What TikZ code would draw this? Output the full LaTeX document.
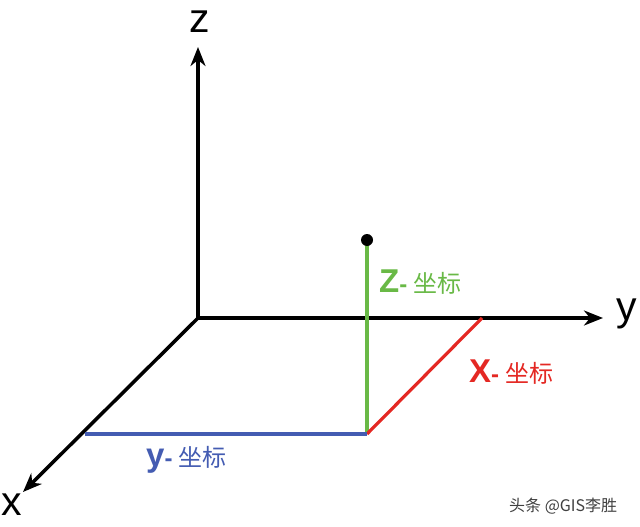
\documentclass[tikz,border=0pt]{standalone}
\usepackage{fontspec}
\setmainfont{Liberation Sans}
\newfontfamily\cjk{Noto Sans CJK SC}
\usepackage{tikz}
\usetikzlibrary{positioning}
\usetikzlibrary{arrows.meta}
\definecolor{zgreen}{RGB}{105,185,70}
\definecolor{xred}{RGB}{228,40,35}
\definecolor{yblue}{RGB}{68,92,178}
\tikzset{axis/.style={line width=3.5pt,-{Stealth[length=19pt,width=15pt,inset=6pt]}}}
\tikzset{coordline/.style={line width=3.2pt}}
\tikzset{axlabel/.style={inner sep=0pt,font=\fontsize{41}{41}\selectfont}}
\tikzset{coordlabel/.style={inner sep=0pt,anchor=base west}}
\newcommand{\zuobiao}[1]{{\bfseries\fontsize{33}{33}\selectfont #1\fontsize{24}{24}\selectfont -}\hspace{6pt}{\cjk\fontsize{24}{24}\selectfont 坐标}}

\begin{document}
\begin{tikzpicture}[x=1pt,y=-1pt]
\useasboundingbox (0,0) rectangle (640,527);
\coordinate (O) at (198,318);
\coordinate (xend) at (23,492);
\coordinate (yend) at (603,318);
\coordinate (zend) at (198,47);
\draw[axis] (O) -- (zend);
\draw[axis] (O) -- (yend);
\draw[axis] (O) -- (xend);
\node[axlabel] (zname) at (200,22) {z};
\node[axlabel] (yname) at (627,314) {y};
\node[axlabel] (xname) at (12,505) {x};
% point and its coordinates
\coordinate (P) at (367,240);
\coordinate (F) at (367,434);
\coordinate (Py) at (482,318);
\coordinate (Px) at (85,434);
\draw[coordline, zgreen] (P) -- (F);
\draw[coordline, xred] (F) -- (Py);
\draw[coordline, yblue] (Px) -- (F);
\fill (P) circle (6);
\node[coordlabel, text=zgreen] (zcoord) at (379,292) {\zuobiao{Z}};
\node[coordlabel, text=xred] (xcoord) at (469,382) {\zuobiao{X}};
\node[coordlabel, text=yblue] (ycoord) at (146,466) {\zuobiao{y}};
\node[anchor=base west, inner sep=0pt, text=black!75] (mark) at (509,511) {\cjk\fontsize{16}{16}\selectfont 头条 @GIS李胜};
\end{tikzpicture}
\end{document}
